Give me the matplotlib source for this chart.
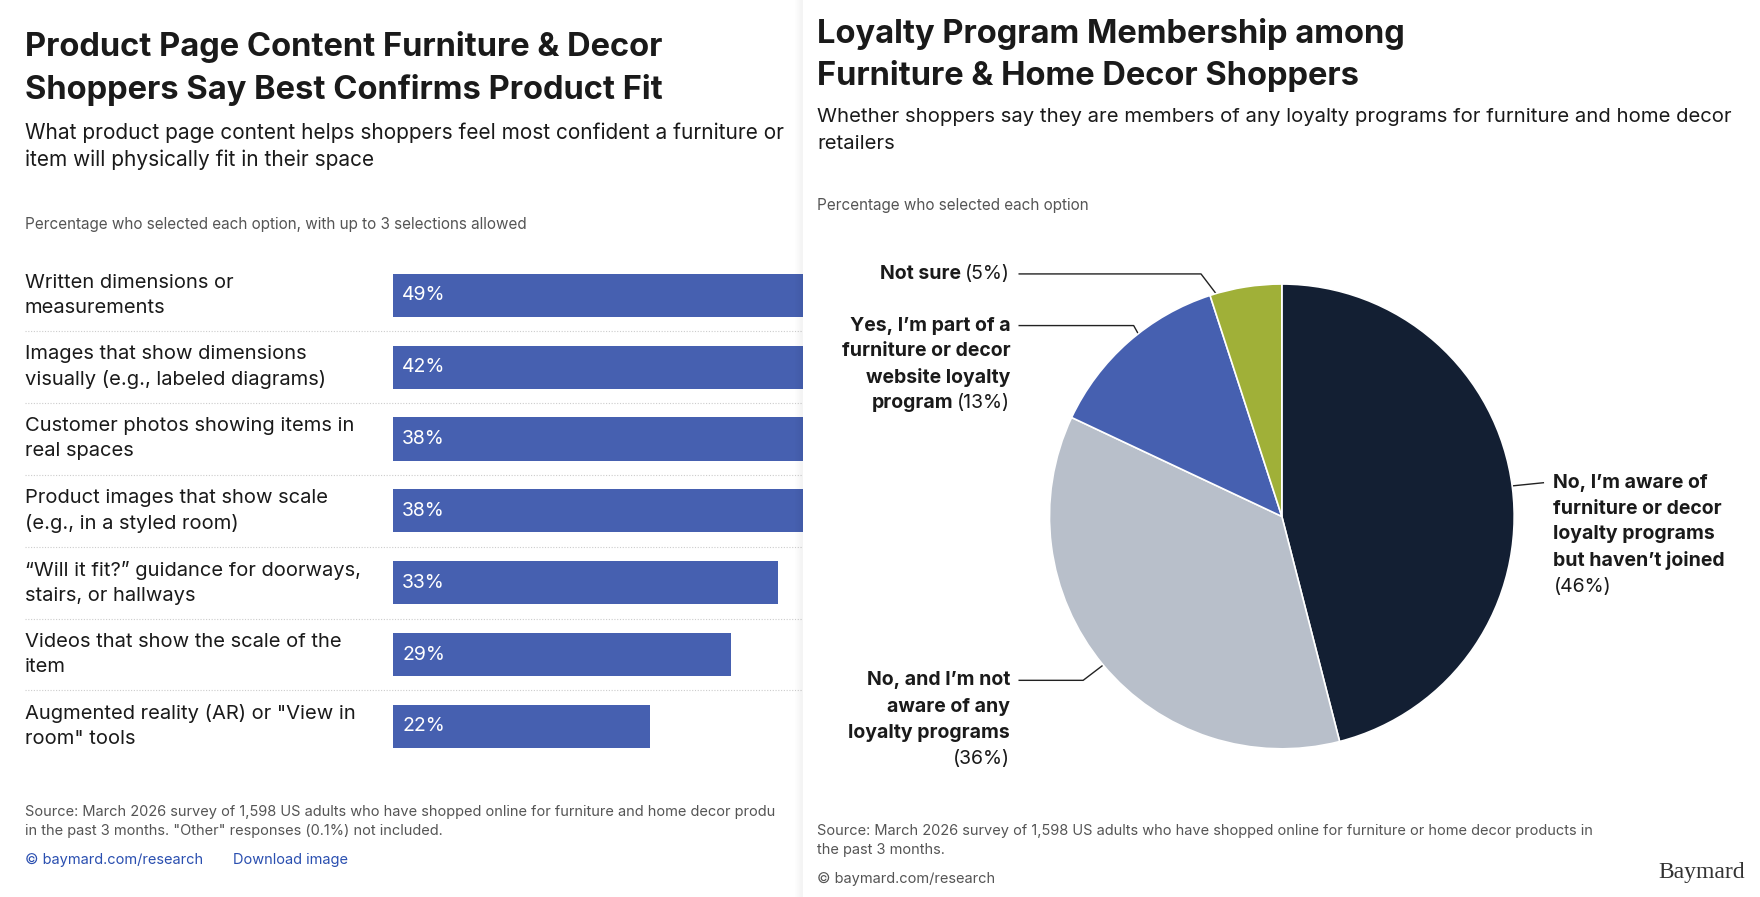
import matplotlib.pyplot as plt
from matplotlib.patches import Rectangle

plt.rcParams['font.family'] = ['Inter', 'DejaVu Sans']

# left chart data
bar_labels = ["Written dimensions or\nmeasurements",
              "Images that show dimensions\nvisually (e.g., labeled diagrams)",
              "Customer photos showing items in\nreal spaces",
              "Product images that show scale\n(e.g., in a styled room)",
              "\u201cWill it fit?\u201d guidance for doorways,\nstairs, or hallways",
              "Videos that show the scale of the\nitem",
              "Augmented reality (AR) or \"View in\nroom\" tools"]
bar_values = [49, 42, 38, 38, 33, 29, 22]

# right chart data
pie_values = [46, 36, 13, 5]
pie_colors = ["#131f33", "#b8bfca", "#4660b0", "#a0b038"]

W, H = 1568, 799
fig = plt.figure(figsize=(17.6, 8.97), dpi=100)

def fx(x): return x / W
def fy(y): return 1 - y / H

base = fig.add_axes([0, 0, 1, 1], zorder=0)
base.set_axis_off()
base.set_xlim(0, W); base.set_ylim(H, 0)

dark = "#1a1a1a"
gray = "#555555"
base.text(22, 42, "Product Page Content Furniture & Decor", fontsize=23.5, weight="bold", color=dark, va="center")
base.text(22, 80, "Shoppers Say Best Confirms Product Fit", fontsize=23.5, weight="bold", color=dark, va="center")
base.text(22, 118, "What product page content helps shoppers feel most confident a furniture or", fontsize=15, color=dark, va="center")
base.text(22, 142, "item will physically fit in their space", fontsize=15, color=dark, va="center")
base.text(22, 200, "Percentage who selected each option, with up to 3 selections allowed", fontsize=11, color=gray, va="center")
base.text(22, 723, "Source: March 2026 survey of 1,598 US adults who have shopped online for furniture and home decor produ", fontsize=10.5, color=gray, va="center")
base.text(22, 740, "in the past 3 months. \"Other\" responses (0.1%) not included.", fontsize=10.5, color=gray, va="center")
base.text(22, 766, "\u00a9 baymard.com/research", fontsize=10.5, color="#2a4fb0", va="center")
base.text(208, 766, "Download image", fontsize=10.5, color="#2a4fb0", va="center")

ys = [263, 327, 391, 455, 519, 583, 647]
for y, lab in zip(ys, bar_labels):
    base.text(22, y, lab, fontsize=14.5, color=dark, va="center", linespacing=1.5)
for y in ys[:-1]:
    base.plot([22, 715], [y + 32, y + 32], color="#cccccc", lw=0.8, ls=(0, (1, 1.5)))

# bars, 10.4 px per percent starting at x=350
bx = fig.add_axes([fx(350), fy(679), fx(W - 350), (679 - 231) / H], zorder=1)
bx.barh(range(len(bar_values)), bar_values, height=0.6, color="#4660b0")
bx.set_xlim(0, (W - 350) / 10.4)
bx.set_ylim(len(bar_values) - 0.5, -0.5)
bx.set_axis_off()
for i, v in enumerate(bar_values):
    bx.text(0.8, i, f"{v}%", color="white", fontsize=14, va="center")

# right panel overlay
ov = fig.add_axes([0, 0, 1, 1], zorder=2)
ov.set_axis_off()
ov.set_xlim(0, W); ov.set_ylim(H, 0)
ov.patch.set_alpha(0)
for k in range(8):
    ov.add_patch(Rectangle((715 - k, 0), 1, H, color="black", alpha=0.05 * (8 - k) / 8, lw=0))
ov.add_patch(Rectangle((715, 0), W - 715, H, color="white", lw=0))
ov.text(728, 30, "Loyalty Program Membership among", fontsize=23.5, weight="bold", color=dark, va="center")
ov.text(728, 68, "Furniture & Home Decor Shoppers", fontsize=23.5, weight="bold", color=dark, va="center")
ov.text(728, 104, "Whether shoppers say they are members of any loyalty programs for furniture and home decor", fontsize=14.6, color=dark, va="center")
ov.text(728, 128, "retailers", fontsize=14.6, color=dark, va="center")
ov.text(728, 183, "Percentage who selected each option", fontsize=11, color=gray, va="center")
ov.text(728, 740, "Source: March 2026 survey of 1,598 US adults who have shopped online for furniture or home decor products in", fontsize=10.5, color=gray, va="center")
ov.text(728, 757, "the past 3 months.", fontsize=10.5, color=gray, va="center")
ov.text(728, 783, "\u00a9 baymard.com/research", fontsize=10.5, color=gray, va="center")
ov.text(1555, 777, "Baymard", fontsize=17, family="Liberation Serif", color="#333333", va="center", ha="right")

# annotations
lc = "#222222"
ov.plot([908, 1070, 1118], [244, 244, 307], color=lc, lw=1)
ov.plot([908, 1010, 1040], [290, 290, 344], color=lc, lw=1)
ov.plot([1375, 1296], [430, 438], color=lc, lw=1)
ov.plot([908, 965, 1024], [606, 606, 561], color=lc, lw=1)
for px, py in [(1118, 307), (1040, 344), (1296, 438), (1024, 561)]:
    ov.plot(px, py, "o", color=lc, ms=3.5, zorder=5)
ls = dict(fontsize=14, color=dark, va="center")
ov.text(900, 244, "(5%)", ha="right", **ls)
ov.text(856, 244, "Not sure", ha="right", weight="bold", **ls)
for y, t in zip([290, 313, 336], ["Yes, I\u2019m part of a", "furniture or decor", "website loyalty"]):
    ov.text(900, y, t, ha="right", weight="bold", **ls)
ov.text(900, 359, "(13%)", ha="right", **ls)
ov.text(849, 359, "program", ha="right", weight="bold", **ls)
for y, t in zip([430, 453, 476, 499], ["No, I\u2019m aware of", "furniture or decor", "loyalty programs", "but haven\u2019t joined"]):
    ov.text(1384, y, t, ha="left", weight="bold", **ls)
ov.text(1384, 523, "(46%)", ha="left", **ls)
for y, t in zip([606, 630, 653], ["No, and I\u2019m not", "aware of any", "loyalty programs"]):
    ov.text(900, y, t, ha="right", weight="bold", **ls)
ov.text(900, 676, "(36%)", ha="right", **ls)

# pie: center (1142,460), radius 207
r = 207
px_ = fig.add_axes([fx(1142 - r), fy(460 + r), 2 * r / W, 2 * r / H], zorder=2.5)
px_.pie(pie_values, colors=pie_colors, startangle=90, counterclock=False,
        wedgeprops=dict(edgecolor="white", linewidth=1.2))
px_.set_aspect("auto")
px_.set_xlim(-1, 1); px_.set_ylim(-1, 1)
fig.savefig("out.png", dpi=100)
